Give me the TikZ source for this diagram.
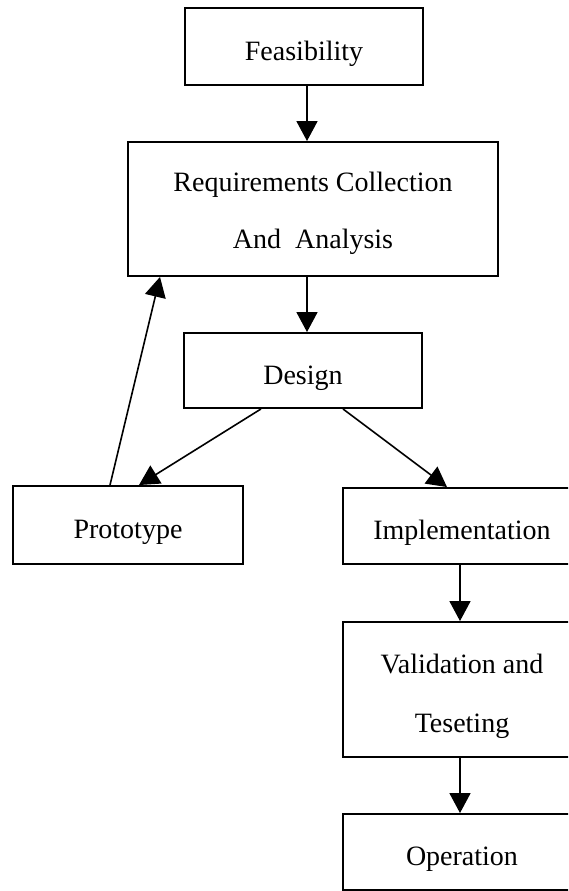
\documentclass[tikz,border=0pt]{standalone}
\usepackage{fontspec}
\setmainfont{Liberation Serif}
\usetikzlibrary{arrows.meta}
\tikzset{
  box/.style={draw, line width=1.9pt, inner sep=0pt, align=center,
    font=\fontsize{28}{57}\selectfont, text height=33pt, text depth=6pt},
  twoline/.style={text height=, text depth=},
  arr/.style={line width=1.6pt, -{Triangle[length=20pt,width=21pt]}},
}
\begin{document}
\begin{tikzpicture}[x=1pt,y=1pt]
\useasboundingbox (0,0) rectangle (568,-891);
\fill[white] (0,0) rectangle (568,-891);
\clip (0,0) rectangle (568,-891);
\node[box, minimum width=238pt, minimum height=77pt] (feas) at (304,-46.5) {Feasibility};
\node[box, twoline, minimum width=370pt, minimum height=134pt] (req) at (313,-209) {\rule{0pt}{28pt}Requirements Collection\\And\ \ Analysis};
\node[box, minimum width=238pt, minimum height=75pt] (des) at (303,-370.5) {Design};
\node[box, minimum width=230pt, minimum height=78pt] (proto) at (128,-525) {Prototype};
\node[box, minimum width=238pt, minimum height=76pt] (impl) at (462,-526) {Implementation};
\node[box, twoline, minimum width=238pt, minimum height=135pt, font=\fontsize{28}{59}\selectfont] (val) at (462,-689.5) {\rule{0pt}{33pt}Validation and\\Teseting};
\node[box, minimum width=238pt, minimum height=76pt] (op) at (462,-852) {Operation};
\draw[arr] ([xshift=3pt]feas.south) -- ([xshift=-6pt]req.north);
\draw[arr] ([xshift=-6pt]req.south) -- ([xshift=4pt]des.north);
\draw[arr] ([xshift=-42pt]des.south) -- ([xshift=11pt]proto.north);
\draw[arr] ([xshift=40pt]des.south) -- ([xshift=-15pt]impl.north);
\draw[arr] ([xshift=-18pt]proto.north) -- ([xshift=-153pt]req.south);
\draw[arr] ([xshift=-2pt]impl.south) -- ([xshift=-2pt]val.north);
\draw[arr] ([xshift=-2pt]val.south) -- ([xshift=-2pt]op.north);
\end{tikzpicture}
\end{document}
